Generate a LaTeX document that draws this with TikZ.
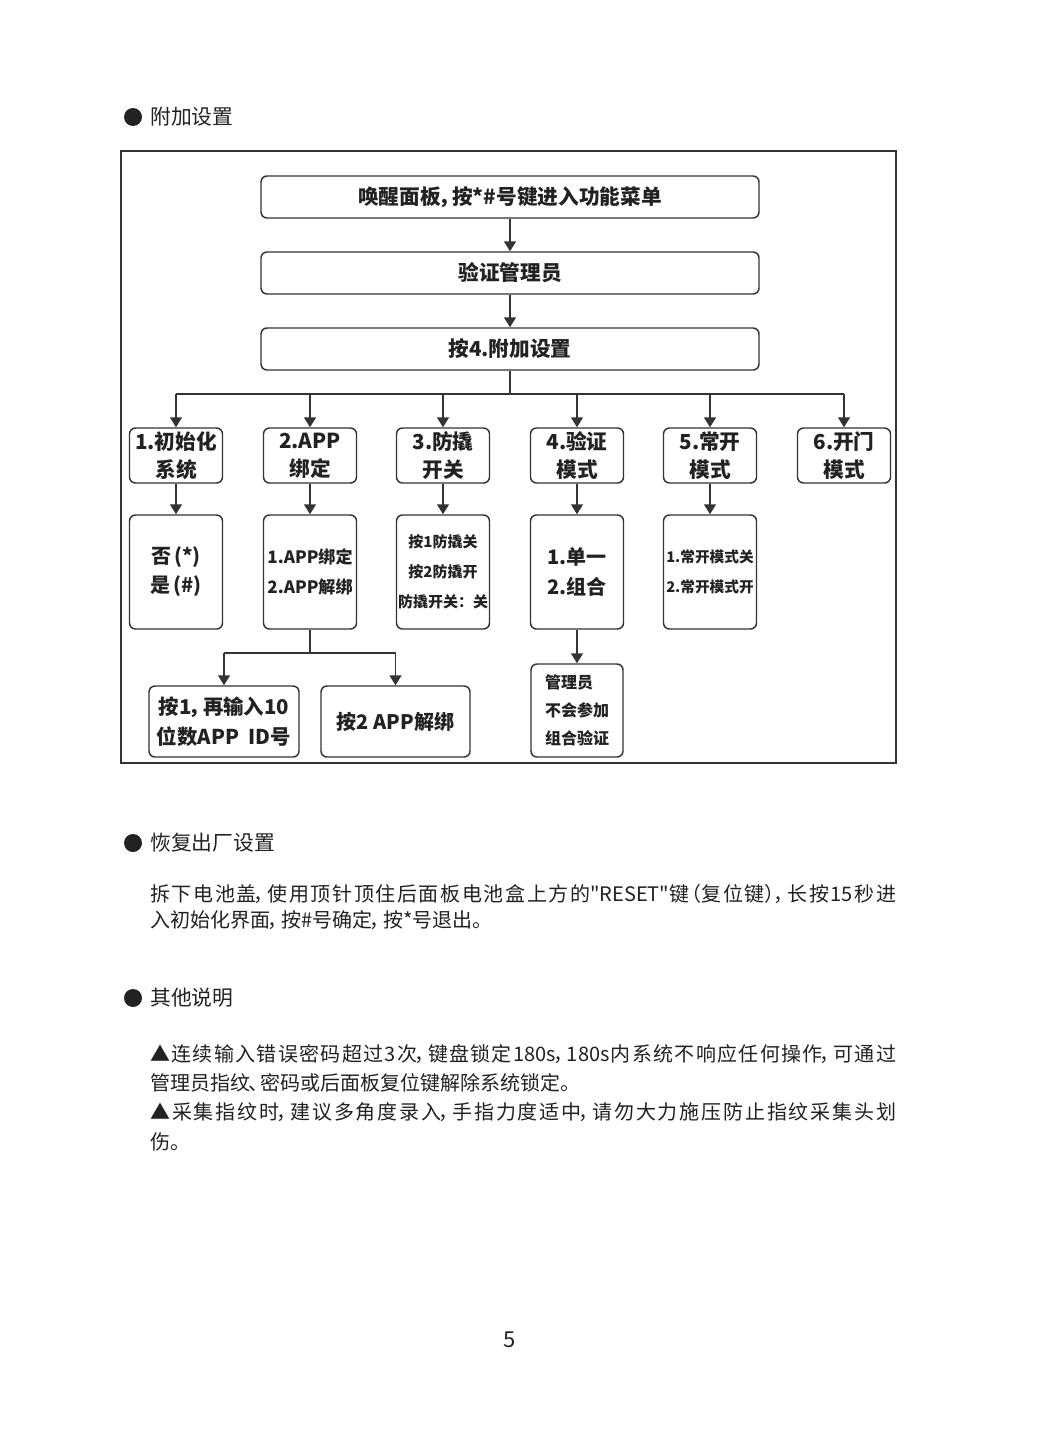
\documentclass[tikz,border=0pt]{standalone}
\usepackage{fontspec}
\newfontfamily\cjk{Noto Sans CJK SC}
\usetikzlibrary{arrows.meta}
\definecolor{ink}{HTML}{222222}
\definecolor{linec}{HTML}{333333}
\newcommand{\fsz}[2]{\fontsize{#1}{#2}\selectfont}
% half-width CJK punctuation
\newcommand{\hc}{\makebox[0.55em][l]{\kern-0.14em，}}
\newcommand{\hd}{\makebox[0.5em][l]{\kern-0.1em、}}
\newcommand{\hpl}{\makebox[0.6em][r]{（}}
\newcommand{\hpr}{\makebox[0.6em][l]{）}}
\XeTeXlinebreaklocale "zh"
\XeTeXlinebreakskip=0pt plus 2pt
\begin{document}
\begin{tikzpicture}[x=0.75pt,y=-0.75pt,
  box/.style={draw=linec, line width=1.1pt, rounded corners=4.5pt, inner sep=0pt,
    align=center, text=ink, font=\cjk\bfseries\fsz{15.5}{21}},
  topbox/.style={box, minimum width=373.5pt, minimum height=31.5pt},
  lone/.style={box, minimum width=69.75pt, minimum height=41.25pt},
  ltwo/.style={box, minimum width=69.75pt, minimum height=85.5pt},
  arr/.style={-{Triangle[length=7.5pt,width=9pt]}, line width=1.1pt, draw=linec},
  conn/.style={line width=1.1pt, draw=linec},
  head/.style={anchor=west, inner sep=0pt, text=ink, font=\cjk\fsz{15.6}{18}},
  para/.style={anchor=west, inner sep=0pt, text=ink, text width=559.5pt, align=justify},
  dot/.style={fill=ink, draw=none}
]
\useasboundingbox (0,0) rectangle (1062,1445);
\fill[white] (0,0) rectangle (1062,1445);

% heading 1
\fill[dot] (133,117) circle (9);
\node[head] (h1) at (150,117) {附加设置};

% frame
\draw[line width=1.5pt, linec] (121,151) rectangle (896,763);

% top boxes
\node[topbox] (t1) at (510,197) {唤醒面板\hc 按*\#号键进入功能菜单};
\node[topbox] (t2) at (510,273) {验证管理员};
\node[topbox] (t3) at (510,349) {按4.附加设置};
\draw[arr] (t1.south) -- (t2.north);
\draw[arr] (t2.south) -- (t3.north);

% level 1
\node[lone] (a1) at (176,455.5) {1.初始化\\系统};
\node[lone] (b1) at (310,455.5) {2.APP\\绑定};
\node[lone] (c1) at (443,455.5) {3.防撬\\开关};
\node[lone] (d1) at (577,455.5) {4.验证\\模式};
\node[lone] (e1) at (710,455.5) {5.常开\\模式};
\node[lone] (f1) at (844,455.5) {6.开门\\模式};

\coordinate (bus) at (510,394);
\draw[conn] (t3.south) -- (bus);
\draw[conn] (bus -| a1) -- (bus -| f1);
\foreach \n in {a1,b1,c1,d1,e1,f1}{
  \draw[arr] (bus -| \n) -- (\n.north);
}

% level 2
\node[ltwo, font=\cjk\bfseries\fsz{15}{21.75}] (a2) at (176,572) {否\,(*)\\是\,(\#)};
\node[ltwo, font=\cjk\bfseries\fsz{12.8}{22.5}] (b2) at (310,572) {1.APP绑定\\2.APP解绑};
\node[ltwo, font=\cjk\bfseries\fsz{11.25}{22.5}] (c2) at (443,572) {按1防撬关\\按2防撬开\\防撬开关：关};
\node[ltwo, font=\cjk\bfseries\fsz{15}{22.5}] (d2) at (577,572) {1.单一\\2.组合};
\node[ltwo, font=\cjk\bfseries\fsz{11}{22.5}] (e2) at (710,572) {1.常开模式关\\2.常开模式开};
\foreach \n in {a,b,c,d,e}{
  \draw[arr] (\n1.south) -- (\n2.north);
}

% level 3
\node[box, minimum width=112.5pt, minimum height=53.25pt, font=\cjk\bfseries\fsz{15.3}{22.5}] (ba) at (224,721.5) {按1\hc 再输入10\\位数APP\ \ ID号};
\node[box, minimum width=111.75pt, minimum height=53.25pt, font=\cjk\bfseries\fsz{15}{21}] (bb) at (395.5,721.5) {按2 APP解绑};
\node[box, minimum width=69pt, minimum height=69.75pt, align=left, font=\cjk\bfseries\fsz{12}{21}] (bc) at (577,710.5) {管理员\\不会参加\\组合验证};

\coordinate (br) at (310,653);
\draw[conn] (b2.south) -- (br);
\draw[conn] (br -| ba) -- (br -| bb);
\draw[arr] (br -| ba) -- (ba.north);
\draw[arr] (br -| bb) -- (bb.north);
\draw[arr] (d2.south) -- (bc.north);

% heading 2
\fill[dot] (133,843) circle (9);
\node[head] (h2) at (150,843) {恢复出厂设置};
\node[para, font=\cjk\fsz{15}{19.5}] (p1) at (150,907)
  {拆下电池盖\hc 使用顶针顶住后面板电池盒上方的"RESET"键\hpl 复位键\hpr\hc 长按15秒进\linebreak
   入初始化界面\hc 按\#号确定\hc 按*号退出。};

% heading 3
\fill[dot] (133,998) circle (9);
\node[head] (h3) at (150,998) {其他说明};
\node[para, font=\cjk\fsz{15}{22}] (p2) at (150,1097.5)
  {▲连续输入错误密码超过3次\hc 键盘锁定180s\hc 180s内系统不响应任何操作\hc 可通过\linebreak
   管理员指纹\hd 密码或后面板复位键解除系统锁定。\newline
   ▲采集指纹时\hc 建议多角度录入\hc 手指力度适中\hc 请勿大力施压防止指纹采集头划\linebreak
   伤。};

% page number
\node[inner sep=0pt, text=ink, font=\cjk\fsz{16.5}{20}] (pg) at (510,1340) {5};
\end{tikzpicture}
\end{document}
